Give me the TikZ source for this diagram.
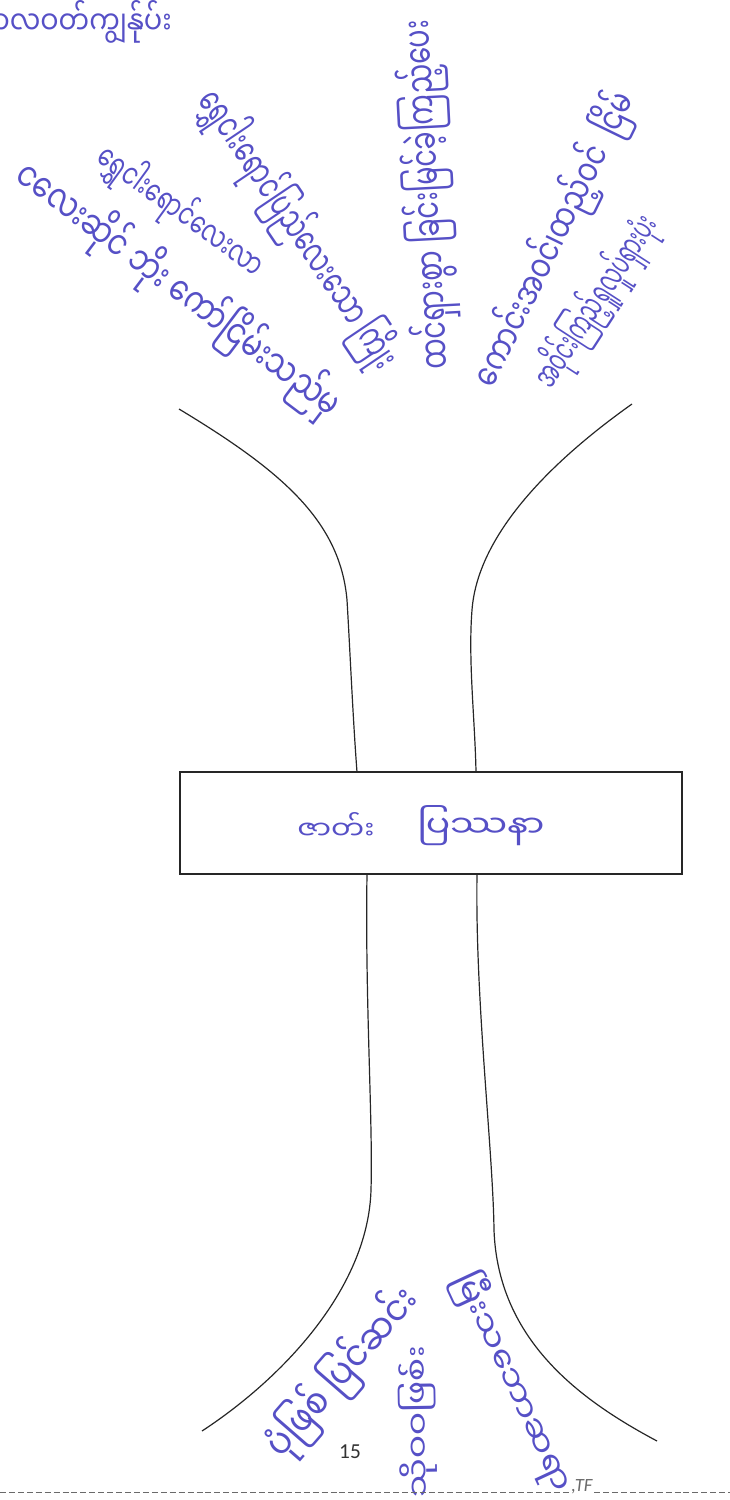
\documentclass[tikz,border=0pt]{standalone}
\usepackage{fontspec}
\usepackage{graphicx}
\setsansfont{Carlito}
\newfontfamily\mmfont[Script=Myanmar]{Noto Sans Myanmar UI}
\definecolor{inkblue}{HTML}{5650C6}
\definecolor{dashgray}{HTML}{6A6A6A}
\newlength{\pxu}
\setlength{\pxu}{0.75pt}
% handwritten label, stretched to a given length and height in px
\newcommand{\fitw}[3]{\resizebox{#1\pxu}{#2\pxu}{\mmfont #3}}
\tikzset{
  hand/.style={text=inkblue, inner sep=0pt},
  trunk/.style={line width=0.9pt, black!85},
  cutline/.style={dashgray, line width=0.6pt, dash pattern=on 4.5pt off 2.2pt}
}

\begin{document}
\begin{tikzpicture}[x=0.75pt, y=-0.75pt]
  \useasboundingbox (0,0) rectangle (730,1500);
  % Header (cut at the left edge)
  \node[hand, anchor=east] (head) at (172,22) {\fitw{205}{34}{ဘာလဝတ်ကျွန်ုပ်း}};
  % Branches
  \node[hand, rotate=-37] (b1) at (178,290) {\fitw{396}{42}{ငလေးဆိုင် ဘိုး ကော်ငြိမ်းသည်မှ}};
  \node[hand, rotate=-36] (b2) at (180,212) {\fitw{197}{36}{ရွှေငါးရောင်လေးလာ}};
  \node[hand, rotate=-56] (b3) at (297,230) {\fitw{327}{42}{ရွှေငါးရောင်ပြည်လေးသော ကြိုး}};
  \node[hand, rotate=93] (b4) at (428,195) {\fitw{350}{42}{ထင်ရှားစွာ ခြင်းမြင်ခဲ့ကြည့်ပေး}};
  \node[hand, rotate=64] (b5) at (555,240) {\fitw{322}{40}{ကောင်းအဝင်၊ထည့်ဝင်~~ငြိမ်}};
  \node[hand, rotate=57] (b6) at (597,302) {\fitw{197}{38}{အဝိုင်းကြည့်ရှုလှုပ်ရှားပုံး}};
  % Crown and trunk
  \draw[trunk] (179,409) .. controls (280,470) and (340,520) .. (347,600)
    .. controls (350,650) and (353,720) .. (357,772);
  \draw[trunk] (632,404) .. controls (560,455) and (478,530) .. (472,610)
    .. controls (468,660) and (475,720) .. (476,772);
  % Problem box
  \node[draw, line width=0.8pt, black!85, minimum width=502\pxu, minimum height=102\pxu,
    inner sep=0pt] (problem) at (431,823) {};
  \node[hand] (kind) at (336,826) {\fitw{77}{27}{ဇာတ်း}};
  \node[hand] (issue) at (481,826) {\fitw{127}{32}{ပြဿနာ}};
  % Roots
  \draw[trunk] (367,874) .. controls (365,1000) and (373,1120) .. (371,1190)
    .. controls (368,1290) and (280,1380) .. (202,1431);
  \draw[trunk] (477,874) .. controls (475,1000) and (493,1150) .. (494,1230)
    .. controls (498,1340) and (580,1400) .. (657,1441);
  \node[hand, rotate=49] (r1) at (343,1373) {\fitw{210}{42}{ပုံဖြစ် ပြင်ဆင်း}};
  \node[hand, rotate=91] (r2) at (418,1422) {\fitw{152}{30}{သိုဝဝဖြစ်း}};
  \node[hand, rotate=-65] (r3) at (513,1382) {\fitw{238}{34}{မြီးသဘောဆရာ}};
  % Page foot
  \node[font=\sffamily\fontsize{16}{18}\selectfont, text=black!80] (page) at (350,1452) {15};
  \node[font=\sffamily\itshape\fontsize{14}{16}\selectfont, text=dashgray, inner sep=1pt] (mark) at (582,1487) {,TF};
  \draw[cutline] (0,1492) -- (mark.west |- 0,1492);
  \draw[cutline] (mark.east |- 0,1492) -- (730,1492);
\end{tikzpicture}
\end{document}
